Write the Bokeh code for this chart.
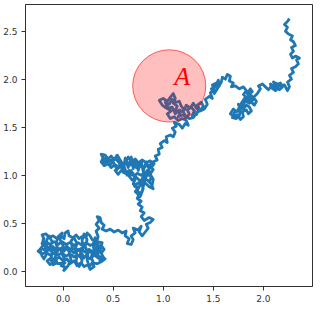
from bokeh.plotting import figure
from bokeh.models import Range1d, FixedTicker
from bokeh.core.properties import value
from bokeh.embed import file_html
from bokeh.resources import INLINE

# Brownian path (data units)
walk = [
    # blob around the origin
    (0.00,0.00),(0.03,0.04),(-0.02,0.06),(0.02,0.09),(-0.05,0.08),(-0.09,0.10),(-0.13,0.07),(-0.16,0.11),
    (-0.12,0.14),(-0.08,0.12),(-0.04,0.15),(0.00,0.11),(0.04,0.13),(0.07,0.08),(0.11,0.11),(0.14,0.06),
    (0.18,0.09),(0.21,0.05),(0.25,0.07),(0.27,0.02),(0.31,0.05),(0.29,0.09),(0.34,0.08),(0.38,0.10),(0.42,0.13),
    (0.39,0.16),(0.35,0.14),(0.31,0.17),(0.27,0.13),(0.23,0.16),(0.19,0.13),(0.15,0.17),(0.11,0.15),
    (0.07,0.18),(0.03,0.16),(-0.01,0.19),(-0.05,0.17),(-0.09,0.19),(-0.13,0.17),(-0.17,0.20),(-0.21,0.18),(-0.25,0.21),
    (-0.22,0.24),(-0.18,0.22),(-0.14,0.25),(-0.10,0.22),(-0.06,0.25),(-0.02,0.22),(0.02,0.25),(0.06,0.21),
    (0.10,0.24),(0.14,0.21),(0.18,0.24),(0.22,0.20),(0.26,0.23),(0.30,0.20),(0.34,0.22),(0.38,0.19),(0.41,0.23),
    (0.38,0.27),(0.34,0.26),(0.31,0.29),(0.27,0.27),(0.23,0.30),(0.19,0.27),(0.15,0.30),(0.11,0.27),
    (0.07,0.30),(0.03,0.28),(-0.01,0.31),(-0.05,0.28),(-0.09,0.31),(-0.13,0.28),(-0.17,0.31),(-0.21,0.29),
    (-0.19,0.34),(-0.21,0.38),(-0.17,0.39),(-0.14,0.35),(-0.10,0.37),(-0.06,0.34),(-0.02,0.37),(0.01,0.34),
    (0.02,0.40),(0.05,0.42),(0.06,0.37),(0.10,0.35),(0.13,0.38),(0.16,0.34),(0.20,0.37),(0.23,0.35),
    (0.24,0.40),(0.27,0.37),(0.29,0.33),(0.33,0.31),(0.39,0.30),
    (0.37,0.22),(0.40,0.15),(0.37,0.11),(0.35,0.17),(0.33,0.24),(0.35,0.30),(0.32,0.35),(0.30,0.28),
    (0.31,0.21),(0.28,0.15),(0.30,0.10),(0.26,0.05),(0.24,0.12),(0.25,0.19),(0.22,0.26),(0.24,0.33),
    (0.21,0.39),(0.19,0.32),(0.20,0.24),(0.17,0.18),(0.19,0.11),(0.16,0.05),(0.13,0.10),(0.14,0.17),
    (0.12,0.23),(0.14,0.29),(0.11,0.35),(0.08,0.32),(0.09,0.25),(0.06,0.19),(0.08,0.12),(0.05,0.06),
    (0.02,0.02),(0.00,0.07),(0.01,0.14),(-0.02,0.20),(0.00,0.27),(-0.03,0.33),(-0.01,0.40),(-0.05,0.36),
    (-0.07,0.29),(-0.05,0.22),(-0.08,0.15),(-0.06,0.09),(-0.10,0.07),(-0.12,0.12),(-0.11,0.19),(-0.13,0.25),
    (-0.11,0.31),(-0.14,0.37),(-0.16,0.33),(-0.18,0.26),(-0.16,0.19),(-0.19,0.13),(-0.21,0.16),(-0.23,0.23),
    (-0.20,0.27),(-0.20,0.33),(-0.17,0.28),(-0.14,0.22),(-0.10,0.26),(-0.07,0.20),(-0.03,0.24),(0.01,0.21),
    (0.04,0.26),(0.08,0.22),(0.11,0.19),(0.15,0.23),(0.18,0.20),(0.21,0.14),(0.24,0.18),(0.27,0.22),
    (0.30,0.16),(0.33,0.19),(0.36,0.25),(0.33,0.29),(0.35,0.36),
    # towards the middle cluster
    (0.33,0.42),(0.36,0.45),(0.33,0.49),(0.36,0.53),(0.34,0.57),(0.37,0.56),(0.38,0.51),(0.41,0.48),
    (0.39,0.44),(0.43,0.42),(0.47,0.44),(0.51,0.41),(0.55,0.43),(0.59,0.40),(0.63,0.42),(0.62,0.37),
    (0.66,0.34),(0.64,0.29),(0.68,0.28),(0.70,0.33),(0.68,0.37),(0.72,0.40),(0.70,0.45),(0.75,0.43),
    (0.78,0.47),(0.76,0.41),(0.79,0.37),(0.82,0.41),(0.85,0.45),(0.83,0.49),(0.87,0.51),(0.90,0.54),
    (0.86,0.56),(0.81,0.53),(0.78,0.57),(0.81,0.61),(0.77,0.63),(0.79,0.67),(0.75,0.70),(0.78,0.73),
    (0.74,0.76),(0.76,0.80),
    # middle cluster
    (0.72,0.83),(0.75,0.86),(0.71,0.89),(0.75,0.92),(0.79,0.89),(0.82,0.92),(0.86,0.88),(0.90,0.86),
    (0.88,0.91),(0.84,0.95),(0.80,0.97),(0.77,0.94),(0.73,0.98),(0.69,0.95),(0.66,0.99),(0.70,1.02),
    (0.66,1.05),(0.62,1.02),(0.58,1.05),(0.55,1.01),(0.52,1.05),(0.56,1.08),(0.52,1.11),(0.48,1.08),
    (0.45,1.12),(0.41,1.10),(0.38,1.14),(0.40,1.18),(0.38,1.22),(0.42,1.21),(0.45,1.17),(0.48,1.20),
    (0.51,1.16),(0.54,1.21),(0.57,1.16),(0.60,1.11),(0.63,1.15),(0.66,1.10),(0.70,1.13),(0.73,1.08),
    (0.77,1.11),(0.80,1.07),(0.84,1.11),(0.88,1.08),(0.91,1.12),(0.87,1.15),(0.83,1.13),(0.79,1.16),
    (0.75,1.13),(0.72,1.17),(0.68,1.14),(0.65,1.19),(0.62,1.13),(0.60,1.07),(0.63,1.03),(0.67,1.04),
    (0.71,0.99),(0.74,1.02),(0.78,1.00),(0.81,1.03),(0.85,1.00),(0.88,1.03),(0.84,1.05),(0.80,0.99),
    (0.77,0.90),(0.74,0.84),(0.78,0.80),(0.75,0.77),(0.79,0.84),(0.82,0.96),(0.86,1.06),
    (0.83,1.14),(0.80,1.04),(0.78,1.15),(0.75,1.05),(0.73,1.16),(0.70,1.07),(0.68,1.19),(0.65,1.08),
    (0.62,1.18),(0.60,1.03),(0.57,1.12),(0.54,1.06),(0.50,1.14),(0.47,1.11),(0.43,1.15),(0.40,1.12),
    (0.43,1.19),(0.47,1.15),(0.52,1.18),(0.56,1.13),(0.61,1.09),(0.64,1.00),(0.68,1.05),(0.72,0.96),
    (0.70,0.91),(0.74,0.88),(0.73,0.82),(0.77,0.78),(0.80,0.86),(0.78,0.93),(0.82,0.98),(0.80,1.02),
    (0.84,1.03),(0.88,0.98),(0.86,0.93),(0.89,0.90),(0.90,0.96),(0.87,1.01),(0.90,1.06),(0.86,1.10),
    # rising part
    (0.90,1.14),(0.94,1.16),(0.92,1.20),(0.96,1.22),(0.95,1.27),(0.99,1.29),(0.97,1.33),(1.01,1.36),
    (1.04,1.34),(1.03,1.40),(1.07,1.42),(1.10,1.40),(1.12,1.45),(1.09,1.49),(1.13,1.51),(1.11,1.55),
    (1.16,1.53),(1.19,1.49),(1.22,1.54),(1.25,1.52),(1.23,1.57),(1.19,1.59),
    # cluster under the circle
    (1.15,1.57),(1.11,1.61),(1.07,1.59),(1.04,1.64),(1.08,1.67),(1.03,1.70),(0.99,1.73),(0.96,1.78),
    (1.00,1.80),(1.04,1.77),(1.07,1.81),(1.10,1.85),(1.12,1.80),(1.10,1.75),(1.14,1.72),(1.12,1.67),
    (1.17,1.65),(1.15,1.61),(1.20,1.63),(1.23,1.60),(1.26,1.64),(1.24,1.68),(1.28,1.71),(1.31,1.67),
    (1.29,1.62),(1.33,1.63),(1.36,1.69),(1.34,1.73),(1.38,1.76),(1.40,1.72),(1.37,1.67),
    (1.33,1.70),(1.30,1.75),(1.27,1.70),(1.23,1.73),(1.21,1.68),(1.18,1.72),(1.16,1.77),(1.13,1.76),
    (1.09,1.79),(1.06,1.74),(1.02,1.76),(1.05,1.70),(1.09,1.71),(1.12,1.64),(1.16,1.68),(1.20,1.66),
    (1.22,1.62),(1.26,1.59),(1.30,1.60),(1.34,1.66),(1.37,1.67),
    (1.41,1.69),(1.44,1.74),(1.42,1.79),(1.46,1.82),(1.49,1.80),(1.47,1.86),(1.51,1.89),(1.49,1.94),
    (1.53,1.96),(1.56,1.93),(1.55,1.99),(1.52,1.92),(1.48,1.90),(1.51,1.85),(1.54,1.90),(1.58,1.97),
    (1.59,2.02),(1.62,2.00),(1.64,2.05),(1.67,2.03),(1.66,1.98),(1.70,1.96),
    (1.68,1.92),(1.72,1.93),(1.76,1.90),(1.80,1.92),(1.83,1.88),
    # right cluster
    (1.80,1.84),(1.84,1.80),(1.88,1.83),(1.90,1.79),(1.86,1.75),(1.82,1.77),(1.79,1.72),(1.75,1.74),
    (1.77,1.68),(1.73,1.66),(1.70,1.69),(1.67,1.64),(1.71,1.61),(1.74,1.63),(1.77,1.58),(1.80,1.61),
    (1.79,1.66),(1.83,1.68),(1.85,1.64),(1.88,1.67),(1.86,1.71),
    (1.83,1.73),(1.80,1.69),(1.76,1.71),(1.74,1.67),(1.71,1.65),(1.69,1.60),(1.73,1.59),(1.76,1.62),
    (1.78,1.75),(1.81,1.80),(1.84,1.77),(1.87,1.79),(1.85,1.84),(1.89,1.87),(1.87,1.90),(1.84,1.85),
    (1.88,1.76),(1.91,1.73),(1.93,1.77),(1.90,1.81),
    (1.94,1.85),(1.97,1.90),(1.95,1.93),(1.99,1.95),(2.02,1.92),(2.05,1.89),(2.08,1.93),(2.11,1.90),
    (2.14,1.95),(2.10,1.97),(2.13,1.92),(2.16,1.89),(2.19,1.92),(2.17,1.96),(2.12,1.94),(2.15,1.91),
    (2.12,1.88),(2.08,1.91),(2.07,1.95),(2.11,1.92),(2.16,1.93),(2.21,1.94),(2.24,1.88),
    # final climb
    (2.26,1.92),(2.24,1.97),(2.28,2.00),(2.26,2.04),(2.30,2.07),(2.28,2.11),(2.32,2.13),(2.35,2.16),
    (2.33,2.20),(2.36,2.22),(2.32,2.24),(2.29,2.22),(2.27,2.26),(2.30,2.29),(2.28,2.33),(2.32,2.35),
    (2.30,2.39),(2.27,2.41),(2.29,2.45),(2.25,2.47),(2.22,2.50),(2.24,2.54),(2.21,2.57),(2.24,2.60),(2.26,2.63),
]
walk_x = [p[0] for p in walk]
walk_y = [p[1] for p in walk]

x_ticks = [0.0, 0.5, 1.0, 1.5, 2.0, 2.5]
y_ticks = [0.0, 0.5, 1.0, 1.5, 2.0, 2.5]
x_tick_labels = ["0.0", "0.5", "1.0", "1.5", "2.0", "2.5"]
y_tick_labels = ["0.0", "0.5", "1.0", "1.5", "2.0", "2.5"]

circle_center = (1.06, 1.93)
circle_radius = 0.365
label_text = "A"
label_pos = (1.19, 2.03)

p = figure(width=320, height=304, output_backend="svg", toolbar_location=None,
           x_range=Range1d(-0.375, 2.49), y_range=Range1d(-0.157, 2.777),
           min_border_left=4, min_border_right=8, min_border_top=4, min_border_bottom=4)

p.line(walk_x, walk_y, line_color="#1f77b4", line_width=2.8, line_join="round")

p.ellipse(x=[circle_center[0]], y=[circle_center[1]],
          width=[2 * circle_radius], height=[2 * circle_radius * 1.03],
          fill_color="red", fill_alpha=0.25, line_color="red", line_alpha=0.6, line_width=1)

p.text(x=[label_pos[0]], y=[label_pos[1]], text=[label_text], text_color="red",
       text_font=value("Liberation Serif"), text_font_style="italic",
       text_font_size="26px", text_align="center", text_baseline="middle")

p.xgrid.visible = False
p.ygrid.visible = False
p.outline_line_color = "#333333"
p.outline_line_width = 1
for ax, ticks, labels in ((p.xaxis[0], x_ticks, x_tick_labels), (p.yaxis[0], y_ticks, y_tick_labels)):
    ax.ticker = FixedTicker(ticks=ticks)
    ax.major_label_overrides = {t: l for t, l in zip(ticks, labels)}
    ax.minor_tick_line_color = None
    ax.major_tick_out = 4
    ax.major_tick_in = 0
    ax.axis_line_color = "#333333"
    ax.major_tick_line_color = "#333333"
    ax.major_label_text_font = "DejaVu Sans"
    ax.major_label_text_font_size = "9px"
    ax.major_label_text_color = "#333333"
    ax.major_label_standoff = 4

open("out.html", "w").write(file_html(p, INLINE))
